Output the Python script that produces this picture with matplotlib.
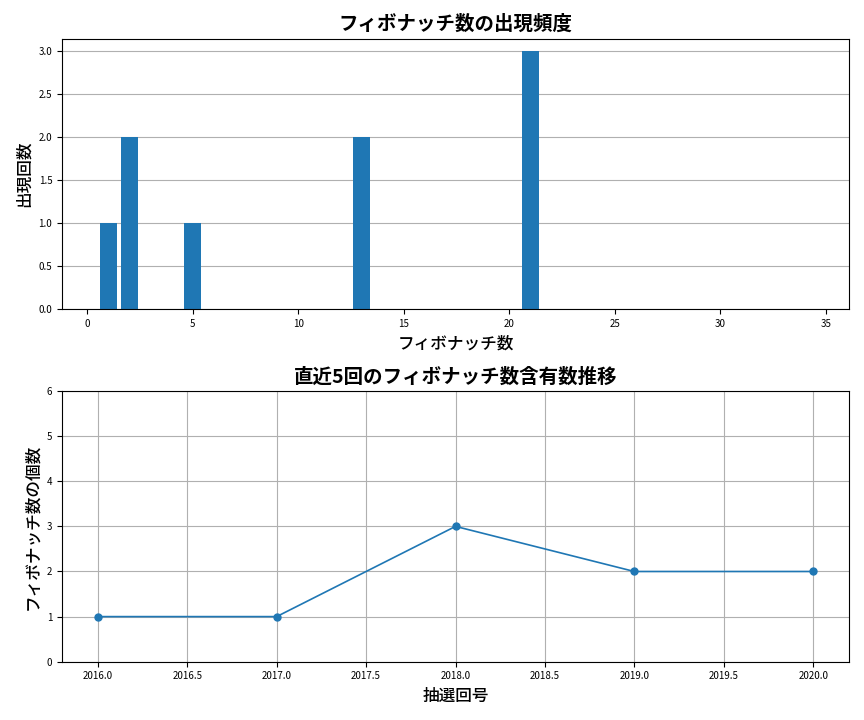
import matplotlib
matplotlib.use("Agg")
import matplotlib.pyplot as plt

plt.rcParams["font.family"] = "Noto Sans CJK JP"

fib_numbers = [1, 2, 5, 13, 21]
fib_counts = [1, 2, 1, 2, 3]
draws = [2016, 2017, 2018, 2019, 2020]
draw_counts = [1, 1, 3, 2, 2]

fig, (ax1, ax2) = plt.subplots(2, 1, figsize=(8.64, 7.2), dpi=100)

ax1.bar(fib_numbers, fib_counts, width=0.8, color="#1f77b4")
ax1.set_title("フィボナッチ数の出現頻度", fontsize=14, fontweight="bold")
ax1.set_xlabel("フィボナッチ数", fontsize=12, fontweight="medium")
ax1.set_ylabel("出現回数", fontsize=12, fontweight="medium")
ax1.set_xlim(-1.2, 36.1)
ax1.set_yticks([0, 0.5, 1.0, 1.5, 2.0, 2.5, 3.0])
ax1.grid(axis="y")
ax1.set_axisbelow(True)
ax1.tick_params(labelsize=7)

ax2.plot(draws, draw_counts, marker="o", color="#1f77b4", linewidth=1.2, markersize=5)
ax2.set_title("直近5回のフィボナッチ数含有数推移", fontsize=14, fontweight="bold")
ax2.set_xlabel("抽選回号", fontsize=12, fontweight="medium")
ax2.set_ylabel("フィボナッチ数の個数", fontsize=12, fontweight="medium")
ax2.set_ylim(0, 6)
ax2.grid(True)
ax2.tick_params(labelsize=7)

fig.tight_layout()
fig.savefig("out.png")
